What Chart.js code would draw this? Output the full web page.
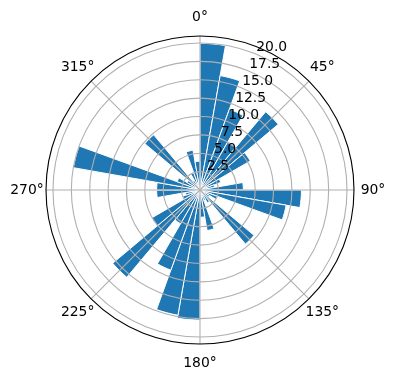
<!DOCTYPE html>
<html>
<head>
<meta charset="utf-8">
<script src="https://cdn.jsdelivr.net/npm/chart.js@4.4.1/dist/chart.umd.min.js"></script>
<style>
  html, body { margin: 0; padding: 0; background: #fff; }
  canvas { display: block; }
</style>
</head>
<body>
<canvas id="myChart" width="396" height="380"></canvas>
<script>
// direction bins (start of each 10 degree sector, clockwise from north)
const binStart = [0, 10, 20, 30, 40, 50, 60, 70, 80, 90, 100, 110,
                  120, 130, 140, 150, 160, 170, 180, 190, 200, 210, 220, 230,
                  240, 250, 260, 270, 280, 290, 300, 310, 320, 330, 340, 350]
// bar heights
const counts = [19.95, 15.8, 11.7, 7.5, 13.9, 7.9, 3.0, 2.0, 5.9, 13.8, 11.9, 2.5,
                1.5, 9.6, 2.0, 1.5, 5.6, 3.7, 17.7, 17.3, 11.6, 5.3, 15.5, 7.6,
                2.5, 2.0, 5.9, 5.9, 17.5, 3.3, 2.0, 9.8, 1.5, 2.5, 5.5, 3.9]
const rTicks = [0, 2.5, 5.0, 7.5, 10.0, 12.5, 15.0, 17.5, 20.0]
const thetaTicks = [0, 45, 90, 135, 180, 225, 270, 315]
const rMax = 20.95

const ctx = document.getElementById('myChart')

// angle grid, outer frame and tick labels, placed with the r scale
const polarDecor = {
    id: 'polarDecor',
    afterDraw(chart) {
        const scale = chart.scales.r
        const c = chart.ctx
        const cx = scale.xCenter
        const cy = scale.yCenter
        const R = scale.drawingArea
        c.save()
        c.strokeStyle = '#b0b0b0'
        c.lineWidth = 1.1
        thetaTicks.forEach(t => {
            const a = (t - 90) * Math.PI / 180
            c.beginPath()
            c.moveTo(cx, cy)
            c.lineTo(cx + R * Math.cos(a), cy + R * Math.sin(a))
            c.stroke()
        })
        c.strokeStyle = '#000000'
        c.lineWidth = 1.1
        c.beginPath()
        c.arc(cx, cy, R, 0, Math.PI * 2)
        c.stroke()

        c.fillStyle = '#000000'
        c.font = '13.9px "DejaVu Sans"'
        c.textAlign = 'center'
        c.textBaseline = 'middle'
        thetaTicks.forEach(t => {
            const a = (t - 90) * Math.PI / 180
            const d = R + 19
            c.fillText(t + '°', cx + d * Math.cos(a), cy + d * Math.sin(a))
        })

        c.textAlign = 'left'
        c.textBaseline = 'bottom'
        const la = (22.5 - 90) * Math.PI / 180
        rTicks.forEach(v => {
            if (v === 0) return
            const d = scale.getDistanceFromCenterForValue(v)
            c.fillText(v.toFixed(1), cx + d * Math.cos(la), cy + d * Math.sin(la))
        })
        c.restore()
    }
}

new Chart(ctx, {
    type: 'polarArea',
    data: {
        labels: binStart.map(b => b + '°'),
        datasets: [{
            data: counts,
            backgroundColor: '#1f77b4',
            borderColor: '#ffffff',
            borderWidth: 1
        }]
    },
    options: {
        responsive: false,
        animation: false,
        layout: { padding: { left: 46, right: 42, top: 36, bottom: 36 } },
        plugins: {
            legend: { display: false },
            tooltip: { enabled: false }
        },
        scales: {
            r: {
                min: 0,
                max: rMax,
                startAngle: 0,
                afterBuildTicks: (scale) => {
                    scale.ticks = rTicks.map(v => ({ value: v }))
                },
                ticks: { display: false },
                grid: { color: '#b0b0b0', lineWidth: 1.1, circular: true, z: 1 },
                angleLines: { display: false },
                pointLabels: { display: false }
            }
        }
    },
    plugins: [polarDecor]
})
</script>
</body>
</html>
